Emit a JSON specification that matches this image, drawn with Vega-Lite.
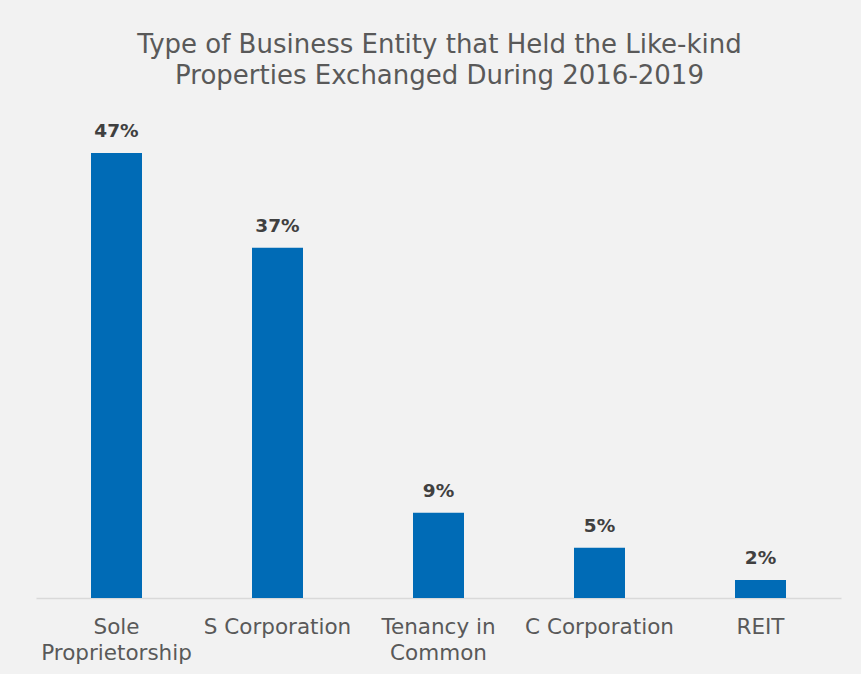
{
  "$schema": "https://vega.github.io/schema/vega-lite/v6.json",
  "width": 805,
  "height": 460,
  "autosize": "none",
  "padding": {"left": 36, "top": 138, "right": 20, "bottom": 76},
  "background": "#f2f2f2",
  "title": {
    "text": ["Type of Business Entity that Held the Like-kind", "Properties Exchanged During 2016-2019"],
    "anchor": "middle",
    "dx": 1,
    "font": "DejaVu Sans",
    "fontSize": 26,
    "fontWeight": "normal",
    "color": "#595959",
    "lineHeight": 31,
    "offset": 33
  },
  "config": {
    "view": {"stroke": null},
    "font": "DejaVu Sans"
  },
  "data": {
    "values": [
      {"entity": "Sole|Proprietorship", "pct": 47, "label": "47%"},
      {"entity": "S Corporation", "pct": 37, "label": "37%"},
      {"entity": "Tenancy in|Common", "pct": 9, "label": "9%"},
      {"entity": "C Corporation", "pct": 5.3, "label": "5%"},
      {"entity": "REIT", "pct": 1.9, "label": "2%"}
    ]
  },
  "encoding": {
    "x": {
      "field": "entity",
      "type": "nominal",
      "sort": null,
      "scale": {"paddingInner": 0, "paddingOuter": 0},
      "axis": {
        "title": null,
        "labelAngle": 0,
        "labelExpr": "split(datum.value, '|')",
        "labelFont": "DejaVu Sans",
        "labelFontSize": 21.5,
        "labelColor": "#595959",
        "labelLineHeight": 26,
        "labelPadding": 18,
        "ticks": false,
        "domainColor": "#d9d9d9",
        "domainWidth": 1.5
      }
    },
    "y": {
      "field": "pct",
      "type": "quantitative",
      "scale": {"domain": [0, 48.58]},
      "axis": null
    }
  },
  "layer": [
    {"mark": {"type": "bar", "size": 51, "color": "#006bb6"}},
    {
      "mark": {"type": "text", "baseline": "bottom", "dy": -12, "fontSize": 18.5, "fontWeight": "bold", "color": "#404040", "font": "DejaVu Sans"},
      "encoding": {"text": {"field": "label", "type": "nominal"}}
    }
  ]
}
